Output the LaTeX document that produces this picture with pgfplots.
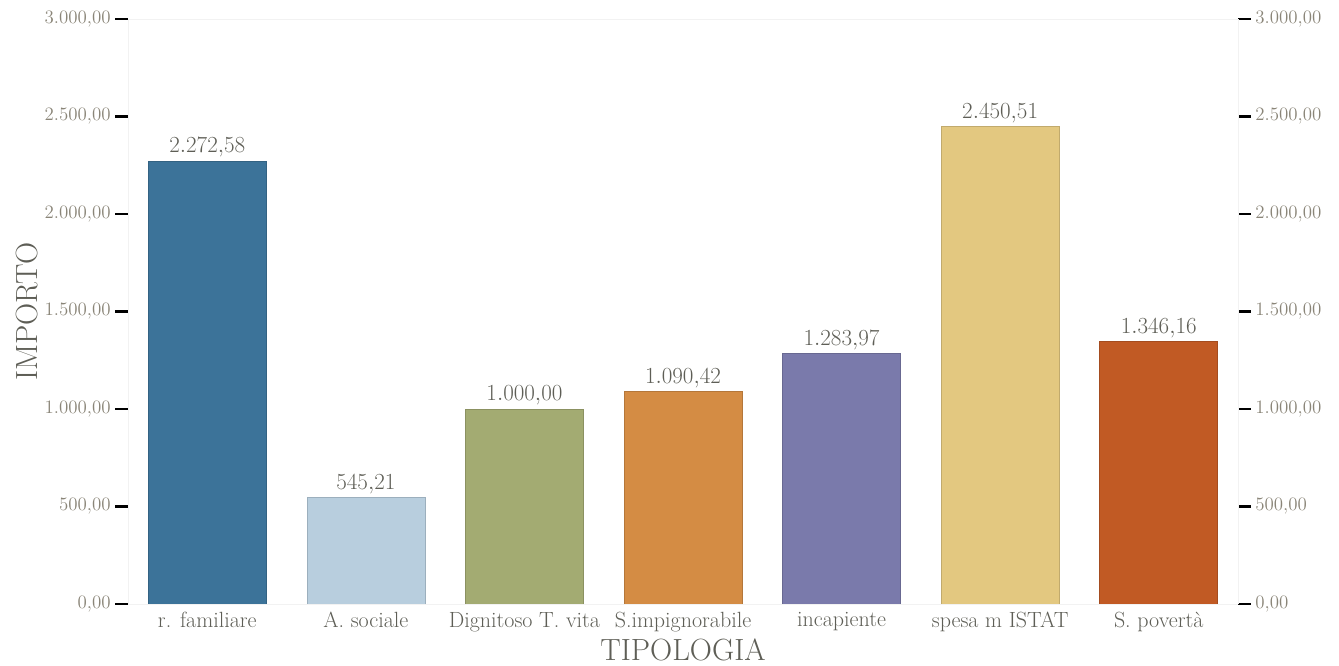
\documentclass[border=0pt]{standalone}
\usepackage{pgfplots}
\pgfplotsset{compat=1.18}
\definecolor{cA}{HTML}{3C7399}
\definecolor{cB}{HTML}{B8CEDE}
\definecolor{cC}{HTML}{A3AB72}
\definecolor{cD}{HTML}{D48C44}
\definecolor{cE}{HTML}{7A7AAB}
\definecolor{cF}{HTML}{E3C880}
\definecolor{cG}{HTML}{C15A24}
\definecolor{ticktxt}{HTML}{8A8578}
\definecolor{labtxt}{HTML}{5E5E56}
\definecolor{faint}{HTML}{F2F2F2}
\begin{document}
\begin{tikzpicture}
\pgfplotsset{
  common/.style={
    scale only axis, width=832.5pt, height=438.75pt,
    xmin=-0.5, xmax=6.5, ymin=0, ymax=3000,
    ytick={0,500,...,3000},
    tick align=outside, major tick length=9.5pt,
    ytick style={black, line width=1.6pt},
    yticklabel style={font=\fontsize{14.2}{16}\selectfont, text=ticktxt,
      /pgf/number format/.cd, fixed, fixed zerofill, precision=2,
      use comma, 1000 sep={.}, assume math mode=true},
    axis line style={faint},
  }
}
\begin{axis}[common, name=main,
    ytick pos=left,
    xtick={0,...,6}, xtick style={draw=none},
    xticklabels={r. familiare, A. sociale, Dignitoso T. vita, S.impignorabile, incapiente, spesa m ISTAT, S. povertà},
    xticklabel style={font=\fontsize{16.5}{18}\selectfont, text=labtxt, yshift=7pt},
    xlabel={TIPOLOGIA}, ylabel={IMPORTO},
    label style={font=\fontsize{23}{25}\selectfont, text=labtxt},
    xlabel style={yshift=1.5pt},
    ylabel style={yshift=-2pt},
    ybar, bar width=88.5pt, bar shift=0pt,
    nodes near coords={\pgfmathprintnumber[fixed, fixed zerofill, precision=2, use comma, 1000 sep={.}]{\pgfplotspointmeta}},
    nodes near coords style={font=\fontsize{16.2}{18}\selectfont, text=labtxt, inner sep=2.5pt},
  ]
  \addplot[fill=cA, draw=cA!85!black] coordinates {(0,2272.58)};
  \addplot[fill=cB, draw=cB!85!black] coordinates {(1,545.21)};
  \addplot[fill=cC, draw=cC!85!black] coordinates {(2,1000.00)};
  \addplot[fill=cD, draw=cD!85!black] coordinates {(3,1090.42)};
  \addplot[fill=cE, draw=cE!85!black] coordinates {(4,1283.97)};
  \addplot[fill=cF, draw=cF!85!black] coordinates {(5,2450.51)};
  \addplot[fill=cG, draw=cG!85!black] coordinates {(6,1346.16)};
\end{axis}
\begin{axis}[common,
    axis y line*=right, axis x line=none,
    ytick pos=right, yticklabel pos=right,
  ]
  \addplot[draw=none] coordinates {(0,0) (6,3000)};
\end{axis}
\pgfresetboundingbox
\path ([shift={(-96pt,-46.5pt)}]main.south west) rectangle ([shift={(75.75pt,14.25pt)}]main.north east);
\end{tikzpicture}
\end{document}
